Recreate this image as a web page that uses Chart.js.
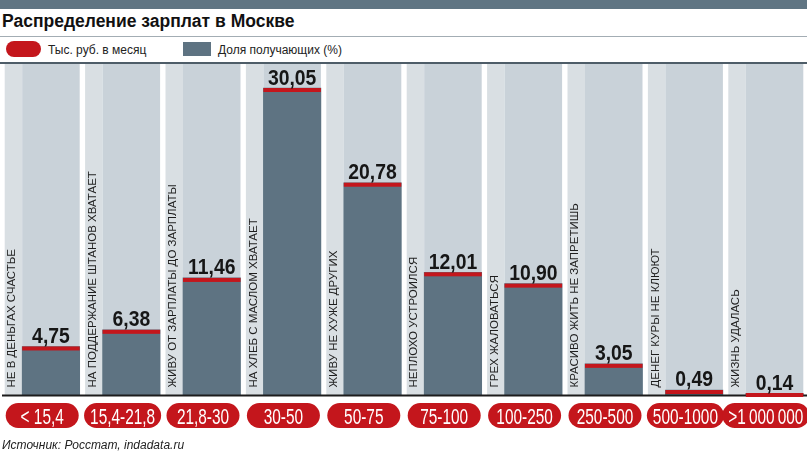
<!DOCTYPE html>
<html lang="ru">
<head>
<meta charset="utf-8">
<title>Распределение зарплат в Москве</title>
<script src="https://cdn.jsdelivr.net/npm/chart.js@4.4.1/dist/chart.umd.min.js"></script>
<style>
  html, body { margin: 0; padding: 0; background: #fff; }
  body { width: 807px; height: 454px; position: relative; overflow: hidden; font-family: "Liberation Sans", Arial, sans-serif; }
  .topbar { position: absolute; left: 0; top: 0; width: 807px; height: 9px; background: #607583; }
  .title { position: absolute; left: 2px; top: 13px; font-size: 17.5px; line-height: 17.5px; font-weight: bold; color: #111; white-space: nowrap; }
  .rule-thin { position: absolute; left: 0; top: 36px; width: 807px; height: 1px; background: #a3adb4; }
  .rule-dark { position: absolute; left: 0; top: 62px; width: 807px; height: 2px; background: #4e5d68; }
  .legend { position: absolute; top: 0; left: 0; font-size: 12px; line-height: 12px; color: #222; white-space: nowrap; }
  .legend .pill { position: absolute; left: 6px; top: 41px; width: 35px; height: 16px; border-radius: 8px; background: #c4161c; }
  .legend .box { position: absolute; left: 183px; top: 42px; width: 28px; height: 14px; background: #5e7382; }
  .legend .t1 { position: absolute; left: 48px; top: 44px; }
  .legend .t2 { position: absolute; left: 218px; top: 44px; }
  .source { position: absolute; left: 2px; top: 439px; font-size: 12px; line-height: 12px; font-style: italic; color: #222; white-space: nowrap; }
  canvas { position: absolute; left: 0; top: 0; }
</style>
</head>
<body>
<div class="topbar"></div>
<div class="title">Распределение зарплат в Москве</div>
<div class="rule-thin"></div>
<div class="legend">
  <div class="pill"></div><div class="t1">Тыс. руб. в месяц</div>
  <div class="box"></div><div class="t2">Доля получающих (%)</div>
</div>
<div class="rule-dark"></div>
<canvas id="salaryChart" width="807" height="454"></canvas>
<div class="source">Источник: Росстат, indadata.ru</div>

<script>
// salary ranges, thousand roubles per month
const ranges = ['< 15,4', '15,4-21,8', '21,8-30', '30-50', '50-75', '75-100', '100-250', '250-500', '500-1000', '>1\u2009000\u2009000'];
// share of earners, %
const shares = [4.75, 6.38, 11.46, 30.05, 20.78, 12.01, 10.90, 3.05, 0.49, 0.14];
// captions written up the side of each column
const sayings = [
  'НЕ В ДЕНЬГАХ СЧАСТЬЕ',
  'НА ПОДДЕРЖАНИЕ ШТАНОВ ХВАТАЕТ',
  'ЖИВУ ОТ ЗАРПЛАТЫ ДО ЗАРПЛАТЫ',
  'НА ХЛЕБ С МАСЛОМ ХВАТАЕТ',
  'ЖИВУ НЕ ХУЖЕ ДРУГИХ',
  'НЕПЛОХО УСТРОИЛСЯ',
  'ГРЕХ ЖАЛОВАТЬСЯ',
  'КРАСИВО ЖИТЬ НЕ ЗАПРЕТИШЬ',
  'ДЕНЕГ КУРЫ НЕ КЛЮЮТ',
  'ЖИЗНЬ УДАЛАСЬ'
];

const RED = '#c4161c';
const BAR = '#5e7382';
const BAR_SHIFT = 8.75;   // bar sits in the right part of its column
const BAR_W = 57.5;

// Columns, captions, red caps, values and range pills around the bars
const columnDecor = {
  id: 'columnDecor',
  beforeDatasetsDraw(chart) {
    const { ctx, chartArea, scales } = chart;
    const base = scales.y.getPixelForValue(0);
    ctx.save();
    ranges.forEach((r, i) => {
      const c = scales.x.getPixelForValue(i);
      ctx.fillStyle = '#d9dfe3';
      ctx.fillRect(c - 37.5, chartArea.top, 17.5, base - chartArea.top);
      ctx.fillStyle = '#c9d2d9';
      ctx.fillRect(c - 20, chartArea.top, 57.5, base - chartArea.top);
    });
    ctx.restore();
    // shift the bars over by hand
    ctx.save();
    ctx.translate(BAR_SHIFT, 0);
  },
  afterDatasetsDraw(chart) {
    const { ctx, scales } = chart;
    ctx.restore();
    const base = scales.y.getPixelForValue(0);
    const meta = chart.getDatasetMeta(0);

    ctx.save();
    // baseline
    ctx.fillStyle = '#1c1c1c';
    ctx.fillRect(2, base - 0.5, 805, 2);

    meta.data.forEach((bar, i) => {
      const x = bar.x + BAR_SHIFT;
      const top = Math.min(bar.y, base - 2);
      ctx.fillStyle = RED;
      ctx.fillRect(x - BAR_W / 2, top, BAR_W, 4);

      // value over the bar
      ctx.save();
      ctx.translate(x, top - 3.5);
      ctx.scale(0.9, 1);
      ctx.font = 'bold 21.5px "Liberation Sans", Arial, sans-serif';
      ctx.fillStyle = '#161616';
      ctx.textAlign = 'center';
      ctx.textBaseline = 'alphabetic';
      ctx.fillText(shares[i].toFixed(2).replace('.', ','), 0, 0);
      ctx.restore();

      // caption going up the strip
      const c = scales.x.getPixelForValue(i);
      ctx.save();
      ctx.translate(c - 30, base - 7.5);
      ctx.rotate(-Math.PI / 2);
      ctx.font = '11.5px "Liberation Sans", Arial, sans-serif';
      ctx.fillStyle = '#1e1e1e';
      ctx.textAlign = 'left';
      ctx.textBaseline = 'middle';
      ctx.fillText(sayings[i], 0, 0);
      ctx.restore();

      // range pill
      ctx.save();
      ctx.font = '22px "Liberation Sans", Arial, sans-serif';
      const tw = ctx.measureText(ranges[i]).width * 0.7;
      const pw = Math.max(73, tw + 12);
      ctx.fillStyle = RED;
      ctx.beginPath();
      ctx.roundRect(c - pw / 2, 403, pw, 25, 12.5);
      ctx.fill();
      ctx.translate(c, 424);
      ctx.scale(0.7, 1);
      ctx.fillStyle = '#fff';
      ctx.textAlign = 'center';
      ctx.textBaseline = 'alphabetic';
      ctx.fillText(ranges[i], 0, 0);
      ctx.restore();
    });
    ctx.restore();
  }
};

new Chart(document.getElementById('salaryChart'), {
  type: 'bar',
  data: {
    labels: ranges,
    datasets: [{
      label: 'Доля получающих (%)',
      data: shares,
      backgroundColor: BAR,
      borderWidth: 0,
      barThickness: BAR_W,
      clip: false
    }]
  },
  options: {
    responsive: false,
    animation: false,
    layout: { padding: { top: 64, bottom: 59, left: 2, right: 1 } },
    plugins: { legend: { display: false }, tooltip: { enabled: false } },
    scales: {
      x: { display: false },
      y: { display: false, min: 0, max: 32.4 }
    }
  },
  plugins: [columnDecor]
});
</script>
</body>
</html>
